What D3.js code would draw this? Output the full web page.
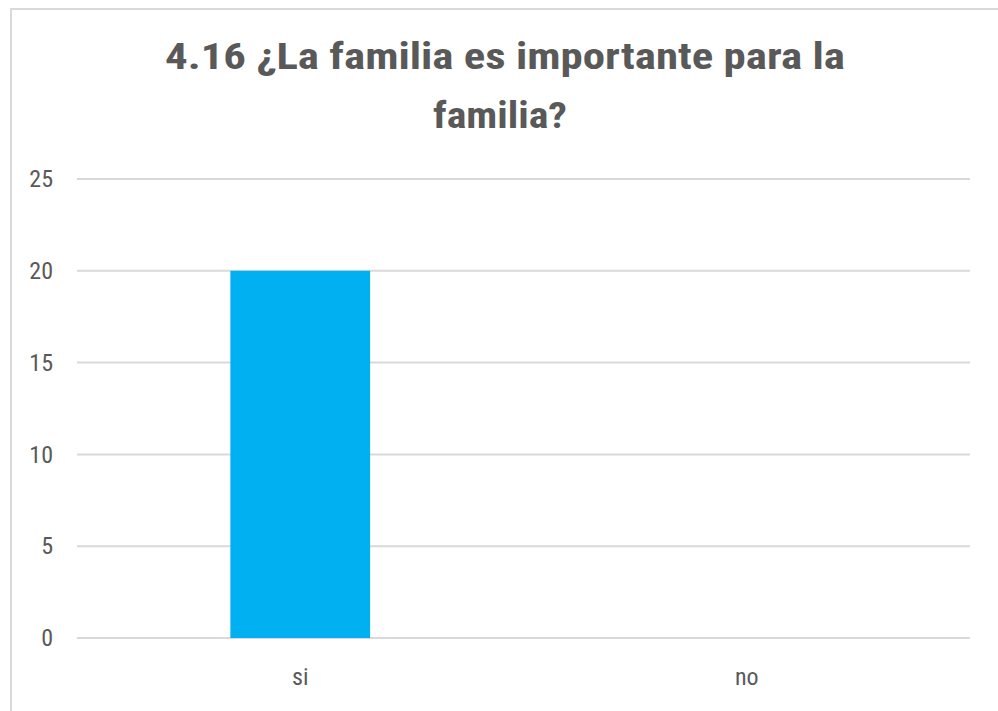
<!DOCTYPE html>
<html>
<head>
<meta charset="utf-8">
<script src="https://cdnjs.cloudflare.com/ajax/libs/d3/7.8.5/d3.min.js"></script>
<style>
  body { margin: 0; background: #fff; }
  svg { display: block; }
</style>
</head>
<body>
<div id="chart-area"></div>
<script>
// data
var categories = ["si", "no"];
var values = [20, 0];
var yTicks = [0, 5, 10, 15, 20, 25];
var titleLines = ["4.16 ¿La familia es importante para la", "familia?"];

var W = 998, H = 711;
var font = "'Liberation Sans Narrow', 'Arial Narrow', 'Roboto Condensed', sans-serif";
var margin = {left: 77, right: 28, top: 179, bottom: 73};

var svg = d3.select("#chart-area")
	.append("svg")
		.attr("width", W)
		.attr("height", H);

// chart frame (left + top edges visible)
svg.append("rect")
	.attr("x", 11)
	.attr("y", 9)
	.attr("width", W + 20)
	.attr("height", H + 20)
	.attr("fill", "none")
	.attr("stroke", "#d9d9d9")
	.attr("stroke-width", 2);

var width = W - margin.left - margin.right;
var height = H - margin.top - margin.bottom;

var g = svg.append("g")
	.attr("transform", "translate(" + margin.left + "," + margin.top + ")");

var x = d3.scaleBand()
	.domain(categories)
	.range([0, width])
	.paddingInner(0.687)
	.paddingOuter(0.3435);

var y = d3.scaleLinear()
	.domain([0, 25])
	.range([height, 0]);

// gridlines
g.selectAll(".grid")
	.data(yTicks)
	.enter().append("line")
		.attr("class", "grid")
		.attr("x1", 0)
		.attr("x2", width)
		.attr("y1", function(d){ return y(d); })
		.attr("y2", function(d){ return y(d); })
		.attr("stroke", "#d9d9d9")
		.attr("stroke-width", 2);

// y axis labels
var yAxis = g.append("g")
	.call(d3.axisLeft(y).tickValues(yTicks).tickSize(0).tickPadding(24));
yAxis.select(".domain").remove();
yAxis.selectAll("text")
	.attr("font-family", font)
	.attr("font-size", "24px")
	.attr("fill", "#595959");

// bars
g.selectAll(".bar")
	.data(values)
	.enter().append("rect")
		.attr("class", "bar")
		.attr("x", function(d, i){ return x(categories[i]); })
		.attr("width", x.bandwidth())
		.attr("y", function(d){ return y(d); })
		.attr("height", function(d){ return height - y(d); })
		.attr("fill", "#00b0f0");

// x axis labels
var xAxis = g.append("g")
	.attr("transform", "translate(0," + height + ")")
	.call(d3.axisBottom(x).tickSize(0).tickPadding(30));
xAxis.select(".domain").remove();
xAxis.selectAll("text")
	.attr("font-family", font)
	.attr("font-size", "24px")
	.attr("fill", "#595959");

// title
var title = svg.append("text")
	.attr("text-anchor", "middle")
	.attr("font-family", font)
	.attr("font-size", "36px")
	.attr("font-weight", "bold")
	.attr("fill", "#595959");

title.append("tspan")
	.attr("x", 505)
	.attr("y", 69)
	.attr("textLength", 680)
	.attr("lengthAdjust", "spacingAndGlyphs")
	.text(titleLines[0]);

title.append("tspan")
	.attr("x", 500)
	.attr("y", 128)
	.attr("textLength", 134)
	.attr("lengthAdjust", "spacingAndGlyphs")
	.text(titleLines[1]);
</script>
</body>
</html>
